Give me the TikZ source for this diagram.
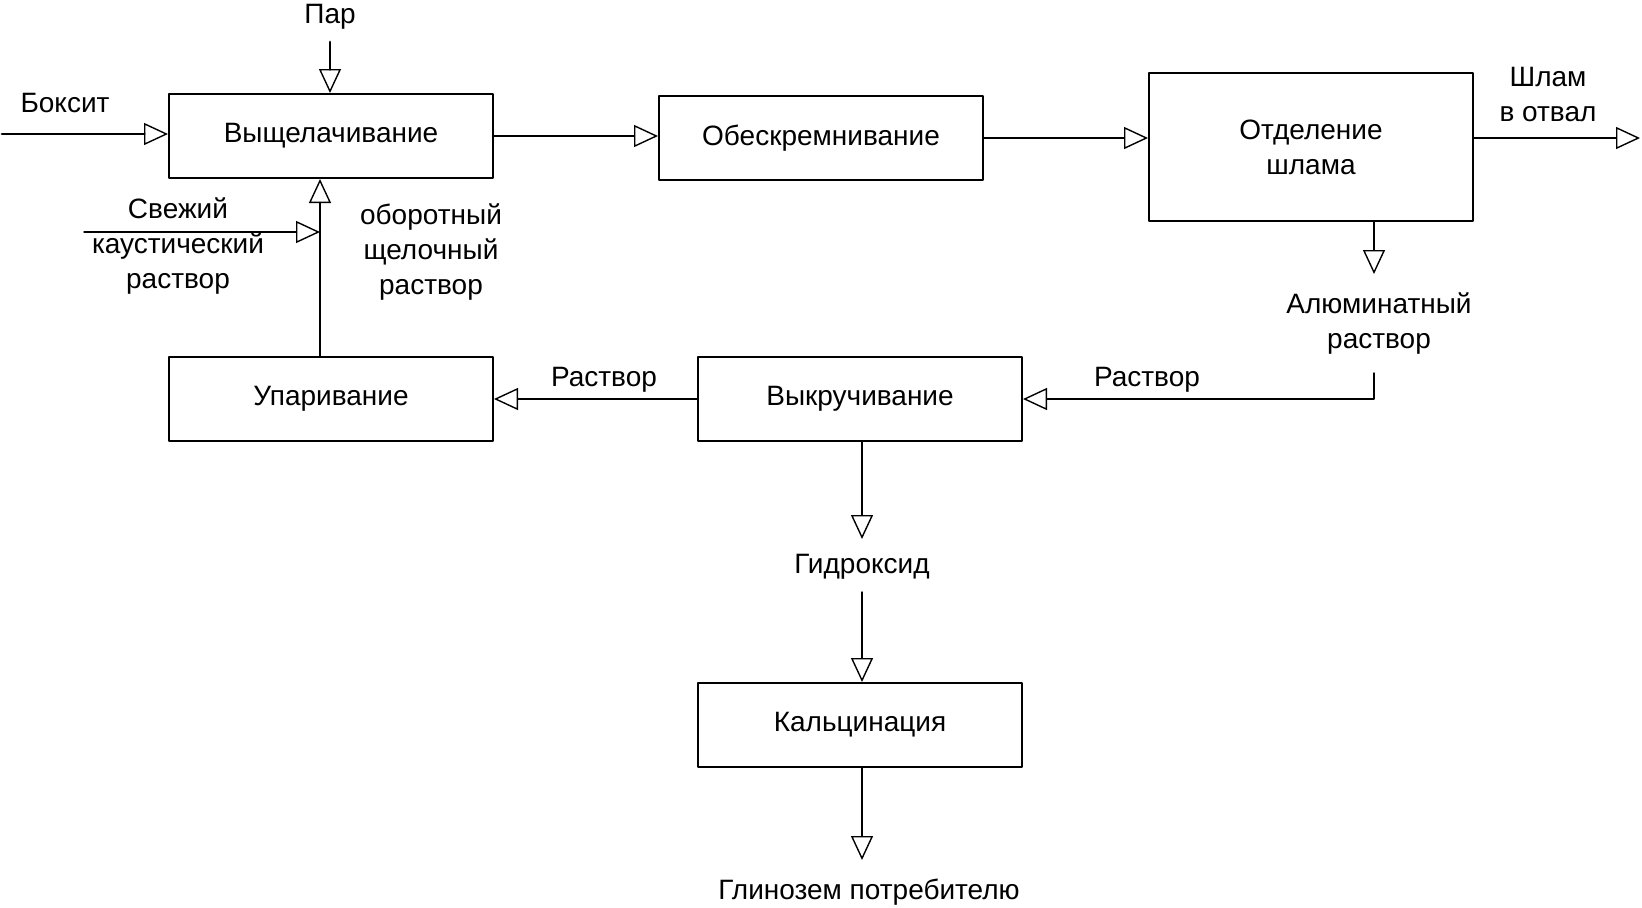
\documentclass[tikz,border=0pt]{standalone}
\usepackage{fontspec}
\setmainfont{Liberation Sans}
\usetikzlibrary{arrows.meta}

\begin{document}
\begin{tikzpicture}[line cap=round,line join=round,>={Triangle[open,length=12pt,width=11pt,line width=0.7pt]},x=0.5pt,y=-0.5pt,
	stage/.style={draw,line width=1pt,minimum width=162pt,minimum height=42pt,inner sep=0pt,align=center},
	tag/.style={align=center,inner sep=0pt},
	flow/.style={->,line width=0.7pt},
	feed/.style={->,line width=1.4pt}]
	\useasboundingbox (0,0) rectangle (1642,907);
	\fontsize{14}{17.5}\selectfont
	%%%%%%%%%%%%%%% S T A G E S %%%%%%%%%%%%%%%%
	%row 0
	\node[stage] (leach) at (331,136) {Выщелачивание};
	\node[stage] (desil) at (821,138) {Обескремнивание};
	\node[stage,minimum height=74pt] (sep) at (1311,147) {Отделение\\шлама};
	%row 1
	\node[stage] (evap) at (331,399) {Упаривание};
	\node[stage] (spin) at (860,399) {Выкручивание};
	%row 2
	\node[stage] (calc) at (860,725) {Кальцинация};
	%%%%%%%%%%%%%%% T A G S %%%%%%%%%%%%%%%%
	\node[tag] (bauxite) at (65,103) {Боксит};
	\node[tag] (steam) at (330,17) {Пар};
	\node[tag] (fresh) at (178,246) {Свежий\\каустический\\раствор};
	\node[tag] (recyc) at (431,252) {оборотный\\щелочный\\раствор};
	\node[tag] (mud) at (1548,94) {Шлам\\в отвал};
	\node[tag] (alum) at (1379,324) {Алюминатный\\раствор};
	\node[tag] (solR) at (1147,380) {Раствор};
	\node[tag] (solL) at (604,380) {Раствор};
	\node[tag] (hydr) at (862,567) {Гидроксид};
	\node[tag] (alumina) at (869,892) {Глинозем потребителю};
	%%%%%%%%%%%%%%% E N D S %%%%%%%%%%%%%%%%
	\coordinate (bauxin) at (2,134);
	\coordinate (steamin) at (330,42);
	\coordinate (freshin) at (84,232);
	\coordinate (ret) at (320,300);
	\coordinate (mudout) at (1640,138);
	\coordinate (alumout) at (1374,274);
	\coordinate (alumtop) at (1374,373);
	\coordinate (hydrout) at (862,539);
	\coordinate (hydrin) at (862,592);
	\coordinate (aluminaout) at (862,860);
	%%%%%%%%%%%%%%% F L O W S %%%%%%%%%%%%%%%%
	%feeds
	\draw [feed] (bauxin) -- (bauxin -| leach.west);
	\draw [feed] (steamin) -- (steamin |- leach.north);
	\draw [flow] (freshin) -- (freshin -| ret);
	%row 0
	\draw [flow] (leach.east) -- (leach.east -| desil.west);
	\draw [flow] (desil.east) -- (desil.east -| sep.west);
	\draw [flow] (mudout -| sep.east) -- (mudout);
	\draw [flow] (sep.south -| alumout) -- (alumout);
	%row 1
	\draw [flow] (alumtop) |- (spin.east);
	\draw [flow] (spin.west) -- (evap.east);
	\draw [flow] (evap.north -| ret) -- (leach.south -| ret);
	%row 2
	\draw [flow] (spin.south -| hydrout) -- (hydrout);
	\draw [flow] (hydrin) -- (calc.north -| hydrin);
	\draw [flow] (calc.south -| aluminaout) -- (aluminaout);
\end{tikzpicture}
\end{document}
